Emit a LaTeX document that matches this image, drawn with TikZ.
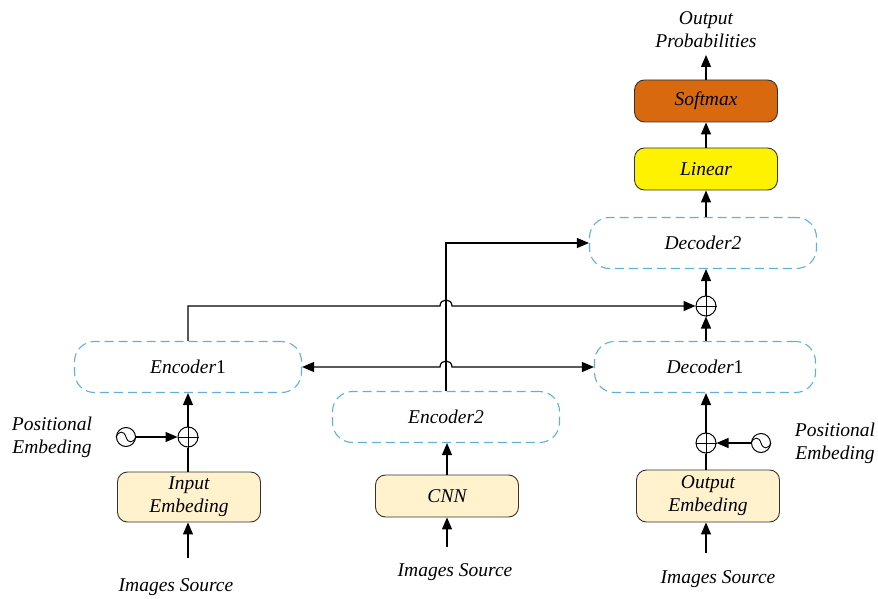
\documentclass[tikz,border=0pt]{standalone}
\usepackage{fontspec}
\setmainfont{Liberation Serif}
\usetikzlibrary{arrows.meta,calc}
\definecolor{dashblue}{RGB}{95,178,212}
\definecolor{beige}{RGB}{255,242,204}
\definecolor{softorange}{RGB}{217,105,14}
\definecolor{edgegray}{RGB}{50,50,50}
\begin{document}
\begin{tikzpicture}[x=1pt,y=-1pt,
  font=\fontsize{19.5}{23}\selectfont\itshape,
  >={Triangle[length=12pt,width=10pt]},
  dbox/.style={draw=dashblue, dash pattern=on 9pt off 5pt, line width=1.1pt, rounded corners=20pt, minimum width=227pt, minimum height=51pt, fill=white},
  sbox/.style={draw=edgegray, line width=0.9pt, rounded corners=10pt, minimum width=143pt, align=center, inner sep=2pt},
  arr/.style={->, line width=1.2pt},
  ln/.style={line width=1.2pt},
  pluscirc/.style={draw, circle, minimum size=20pt, inner sep=0pt, line width=1pt},
  wavecirc/.style={draw, circle, minimum size=19pt, inner sep=0pt, line width=1pt},
  lbl/.style={align=center, inner sep=0pt}
]
\useasboundingbox (0,0) rectangle (878,599);

% dashed blocks
\node[dbox] (enc1) at (188,367) {Encoder\upshape 1};
\node[dbox] (enc2) at (446,417) {Encoder2};
\node[dbox, minimum width=221pt] (dec1) at (705,367) {Decoder\upshape 1};
\node[dbox] (dec2) at (703,243) {Decoder2};

% solid blocks
\node[sbox, fill=yellow, minimum height=42pt] (lin) at (706,169) {Linear};
\node[sbox, fill=softorange, minimum height=42pt] (soft) at (706,101) {Softmax};
\node[sbox, fill=beige, minimum height=50pt] (inemb) at (189,497) {Input\\Embeding};
\node[sbox, fill=beige, minimum height=42pt] (cnn) at (447,496) {CNN};
\node[sbox, fill=beige, minimum height=52pt] (outemb) at (708,496) {Output\\Embeding};

% adders and wave sources
\node[pluscirc] (pl1) at (188,437) {};
\node[pluscirc] (pl2) at (706,443) {};
\node[pluscirc] (pl3) at (706,306) {};
\node[wavecirc] (wv1) at (126,437) {};
\node[wavecirc] (wv2) at (761,443) {};
\foreach \p in {pl1,pl2,pl3}{
  \draw[line width=1pt] (\p.north) -- (\p.south) (\p.west) -- (\p.east);
}
\foreach \w in {wv1,wv2}{
  \draw[line width=0.9pt] (\w.west) .. controls ($(\w.center)+(-7,-6.5)$) and ($(\w.center)+(-2,-6.5)$) .. (\w.center)
     .. controls ($(\w.center)+(2,6.5)$) and ($(\w.center)+(7,6.5)$) .. (\w.east);
}

% labels
\node[lbl] (outp) at (706,30) {Output\\Probabilities};
\node[lbl] (pe1) at (52,437) {Positional\\Embeding};
\node[lbl] (pe2) at (835,443) {Positional\\Embeding};
\node[lbl] (is1) at (176,587) {Images Source};
\node[lbl] (is2) at (455,572) {Images Source};
\node[lbl] (is3) at (718,579) {Images Source};

\coordinate (src1) at (188,558);
\coordinate (src2) at (447,547);
\coordinate (src3) at (706,553);
\coordinate (top) at (706,55);

% left column
\draw[arr] (src1) -- (src1 |- inemb.south);
\draw[ln] (inemb.north -| pl1) -- (pl1.south);
\draw[arr] (pl1.north) -- (pl1 |- enc1.south);
\draw[arr] (wv1.east) -- (pl1.west);

% middle column
\draw[arr] (src2) -- (cnn.south);
\draw[arr] (cnn.north) -- (cnn.north |- enc2.south);

% right column
\draw[arr] (src3) -- (src3 |- outemb.south);
\draw[ln] (outemb.north -| pl2) -- (pl2.south);
\draw[arr] (pl2.north) -- (pl2 |- dec1.south);
\draw[arr] (wv2.west) -- (pl2.east);
\draw[arr] (dec1.north -| pl3) -- (pl3.south);
\draw[arr] (pl3.north) -- (pl3 |- dec2.south);
\draw[arr] (dec2.north -| lin) -- (lin.south);
\draw[arr] (lin.north) -- (soft.south);
\draw[arr] (soft.north) -- (top);

% cross connections
\draw[arr] (enc2.north) -- (enc2.north |- dec2.west) -- (dec2.west);
\draw[arr] (enc1.north) -- (enc1.north |- pl3)
   -- ($(enc2.north |- pl3)+(-6,0)$) .. controls +(0,-8) and +(0,-8) .. ($(enc2.north |- pl3)+(6,0)$)
   -- (pl3.west);
\draw[<->, line width=1.2pt] (enc1.east)
   -- ($(enc2.north |- enc1.east)+(-6,0)$) .. controls +(0,-8) and +(0,-8) .. ($(enc2.north |- enc1.east)+(6,0)$)
   -- (dec1.west);
\end{tikzpicture}
\end{document}
